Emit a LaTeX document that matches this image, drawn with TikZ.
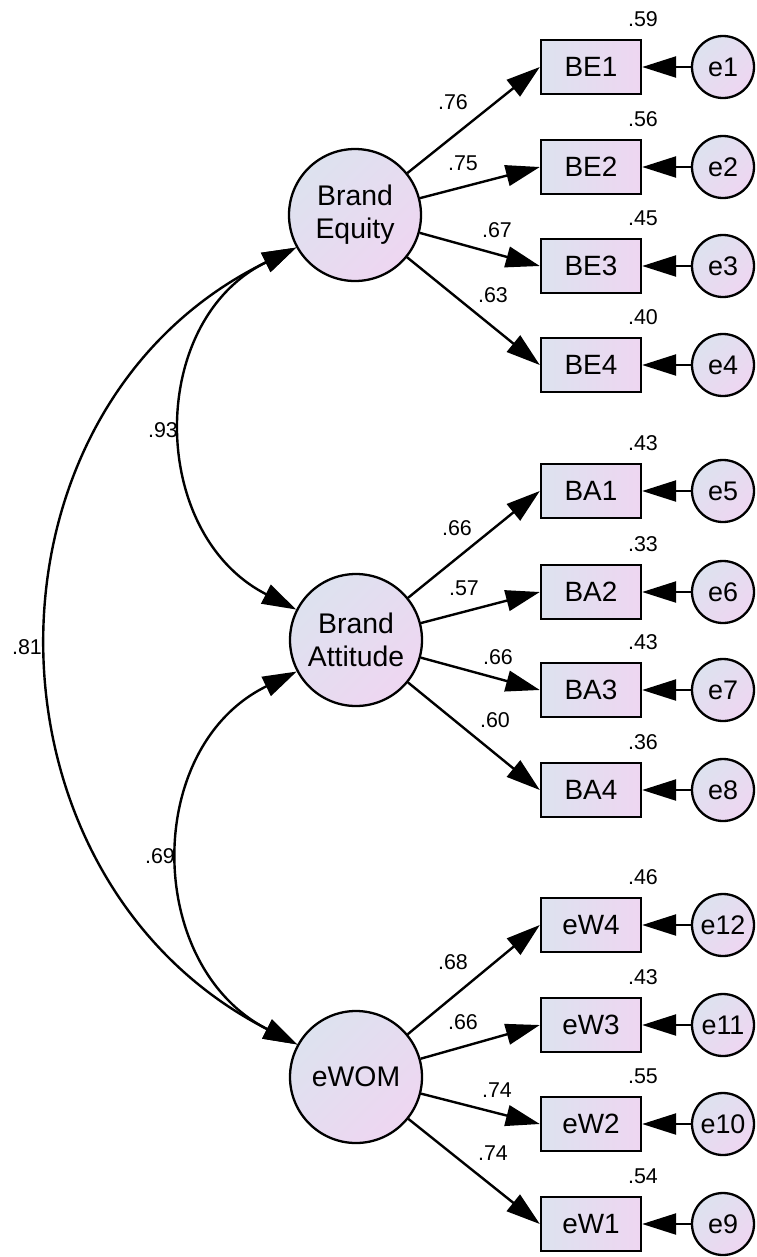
\documentclass[tikz,border=0pt]{standalone}
\usepackage{fontspec}
\setmainfont{Liberation Sans}
\usetikzlibrary{arrows.meta}
\definecolor{shA}{RGB}{221,226,239}
\definecolor{shB}{RGB}{238,214,241}
\begin{document}
\begin{tikzpicture}[x=1bp,y=1bp,
  lat/.style={circle, draw, line width=2.3bp, minimum size=132bp, inner sep=0pt, top color=shA, bottom color=shB, shading angle=45, align=center, font=\fontsize{28.5}{33}\selectfont},
  obs/.style={rectangle, draw, line width=2.4bp, minimum width=100bp, minimum height=54bp, inner sep=0pt, left color=shA, right color=shB, font=\fontsize{28}{33}\selectfont},
  err/.style={circle, draw, line width=2.3bp, minimum size=62bp, inner sep=0pt, top color=shA, bottom color=shB, shading angle=45, font=\fontsize{27}{32}\selectfont},
  num/.style={inner sep=0pt, font=\fontsize{21.5}{24}\selectfont},
  load/.style={line width=2.4bp, -{Triangle[length=34bp,width=21bp]}},
  cov/.style={line width=2.4bp, {Triangle[length=34bp,width=21bp]}-{Triangle[length=34bp,width=21bp]}},
]
\fill[white] (0,0) rectangle (757,-1257);
\useasboundingbox (0,0) rectangle (757,-1257);

% latent variables
\node[lat] (BE) at (355,-215) {Brand\\Equity};
\node[lat] (BA) at (356,-640) {Brand\\Attitude};
\node[lat] (EW) at (356,-1077) {eWOM};

% observed
\node[obs] (BE1) at (591,-67) {BE1};
\node[obs] (BE2) at (591,-167) {BE2};
\node[obs] (BE3) at (591,-266) {BE3};
\node[obs] (BE4) at (591,-365) {BE4};
\node[obs] (BA1) at (591,-491) {BA1};
\node[obs] (BA2) at (591,-592) {BA2};
\node[obs] (BA3) at (591,-690) {BA3};
\node[obs] (BA4) at (591,-790) {BA4};
\node[obs] (eW4) at (591,-925) {eW4};
\node[obs] (eW3) at (591,-1025) {eW3};
\node[obs] (eW2) at (591,-1124) {eW2};
\node[obs] (eW1) at (591,-1224) {eW1};

% errors
\node[err] (e1) at (723,-67) {e1};
\node[err] (e2) at (723,-167) {e2};
\node[err] (e3) at (723,-266) {e3};
\node[err] (e4) at (723,-365) {e4};
\node[err] (e5) at (723,-491) {e5};
\node[err] (e6) at (723,-592) {e6};
\node[err] (e7) at (723,-690) {e7};
\node[err] (e8) at (723,-790) {e8};
\node[err] (e12) at (723,-925) {e12};
\node[err] (e11) at (723,-1025) {e11};
\node[err] (e10) at (723,-1124) {e10};
\node[err] (e9) at (723,-1224) {e9};

% loadings
\foreach \b in {BE1,BE2,BE3,BE4} \draw[load] (BE) -- (\b.west);
\foreach \b in {BA1,BA2,BA3,BA4} \draw[load] (BA) -- (\b.west);
\foreach \b in {eW4,eW3,eW2,eW1} \draw[load] (EW) -- (\b.west);

% error arrows
\foreach \e/\b in {e1/BE1,e2/BE2,e3/BE3,e4/BE4,e5/BA1,e6/BA2,e7/BA3,e8/BA4,e12/eW4,e11/eW3,e10/eW2,e9/eW1}
  \draw[load] (\e) -- (\b.east);

% covariances (circular-like arcs)
\draw[cov] (BE.209) to[out=206,in=153,looseness=1.18] (BA.153);
\draw[cov] (BE.209) to[out=206,in=153,looseness=1.18] (EW.151);
\draw[cov] (BA.208) to[out=206,in=153,looseness=1.18] (EW.151);

% R-squared labels
\node[num] (r1) at (643,-19) {.59};
\node[num] (r2) at (643,-119) {.56};
\node[num] (r3) at (643,-218) {.45};
\node[num] (r4) at (643,-317) {.40};
\node[num] (r5) at (643,-443) {.43};
\node[num] (r6) at (643,-544) {.33};
\node[num] (r7) at (643,-642) {.43};
\node[num] (r8) at (643,-742) {.36};
\node[num] (r12) at (643,-877) {.46};
\node[num] (r11) at (643,-977) {.43};
\node[num] (r10) at (643,-1076) {.55};
\node[num] (r9) at (643,-1176) {.54};

% loading labels
\node[num] (l1) at (453,-102) {.76};
\node[num] (l2) at (463,-163) {.75};
\node[num] (l3) at (497,-230) {.67};
\node[num] (l4) at (493,-295) {.63};
\node[num] (l5) at (457,-528) {.66};
\node[num] (l6) at (464,-588) {.57};
\node[num] (l7) at (498,-657) {.66};
\node[num] (l8) at (495,-720) {.60};
\node[num] (l12) at (453,-962) {.68};
\node[num] (l11) at (463,-1022) {.66};
\node[num] (l10) at (497,-1090) {.74};
\node[num] (l9) at (493,-1153) {.74};

% covariance labels
\node[num] (c1) at (163,-430) {.93};
\node[num] (c2) at (27,-647) {.81};
\node[num] (c3) at (160,-856) {.69};
\end{tikzpicture}
\end{document}
